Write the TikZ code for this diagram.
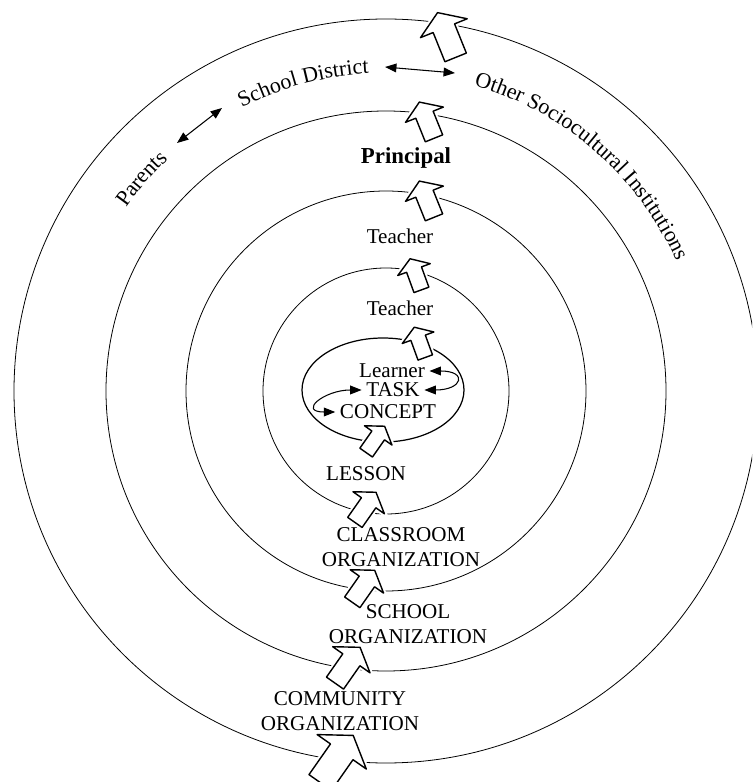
\documentclass[tikz,border=0pt]{standalone}
\usepackage{fontspec}
\setmainfont{Liberation Serif}
\usepackage{tikz}
\usetikzlibrary{
  arrows.meta,
  decorations.text,
}
\newcommand\ringfont{\fontsize{12}{14.6}\selectfont}
\newcommand\arcfont{\fontsize{12.5}{15}\selectfont}

\tikzset{
  ringline/.style={line width=0.45pt},
  tag/.style={font=\ringfont, align=center, inner sep=2.5pt},
  link/.style={{Triangle[length=6.5pt,width=5pt]}-{Triangle[length=6.5pt,width=5pt]}, line width=0.6pt},
  arctext/.style={decorate, decoration={text along path, text align=center, text={|\arcfont|#1}}},
  uparrow/.pic={
    \draw[fill=white, line width=0.8pt, line join=round, preaction={draw=white, line width=3pt}]
      (0,24) -- (24,8) -- (11,8) -- (11,-22) -- (-11,-22) -- (-11,8) -- (-24,8) -- cycle;
  },
}

\begin{document}
\begin{tikzpicture}[
  x=0.02cm, y=0.02cm,
]
\clip (0,0) rectangle (752,782);
\coordinate (C) at (386,391);
\draw[ringline] (C) circle[radius=372];
\draw[ringline] (C) circle[radius=280];
\draw[ringline] (C) circle[radius=200];
\draw[ringline] (C) circle[radius=123];
\draw[line width=0.7pt] (383,392) ellipse[x radius=81, y radius=52];

\pic[rotate=22, scale=1.05] at (447,746) {uparrow};
\pic[rotate=22, scale=0.85] at (427,661) {uparrow};
\pic[rotate=22, scale=0.85] at (427,582) {uparrow};
\pic[rotate=20, scale=0.72] at (416,507) {uparrow};
\pic[rotate=20, scale=0.7] at (420,439) {uparrow};
\pic[rotate=-35, scale=0.7] at (375,342) {uparrow};
\pic[rotate=-35, scale=0.8] at (365,274) {uparrow};
\pic[rotate=-35, scale=0.85] at (363,195) {uparrow};
\pic[rotate=-35, scale=0.95] at (347,116) {uparrow};
\pic[rotate=-35, scale=1.25] at (336,22) {uparrow};

\node[tag, font=\fontsize{13}{15}\selectfont\bfseries] (principal) at (406,624) {Principal};
\node[tag] (teacherA) at (400,546) {Teacher};
\node[tag] (teacherB) at (400,474) {Teacher};
\node[tag] (learner) at (392,411) {Learner};
\node[tag] (task) at (393,392) {TASK};
\node[tag] (concept) at (388,370) {CONCEPT};
\node[tag] (lesson) at (366,308) {LESSON};
\node[tag] (classroom) at (401,235) {CLASSROOM\\ORGANIZATION};
\node[tag] (school) at (408,158) {SCHOOL\\ORGANIZATION};
\node[tag] (community) at (340,71) {COMMUNITY\\ORGANIZATION};

\path[arctext=Parents] ([shift={(159:318)}]C) arc[start angle=159, end angle=119, radius=318];
\path[arctext=School District] ([shift={(130:318)}]C) arc[start angle=130, end angle=80, radius=318];
\path[arctext=Other Sociocultural Institutions] ([shift={(84:318)}]C) arc[start angle=84, end angle=14, radius=318];

\coordinate (parentsTip) at (177,639);
\coordinate (districtLeft) at (222,674);
\coordinate (districtRight) at (385,715);
\coordinate (otherTip) at (455,709);
\draw[link] (parentsTip) -- (districtLeft);
\draw[link] (districtRight) -- (otherTip);

\draw[link] (learner.east) to[out=0, in=0, looseness=5] (task.east);
\draw[link] (task.west) to[out=180, in=180, looseness=2.8] (concept.west);
\end{tikzpicture}
\end{document}
